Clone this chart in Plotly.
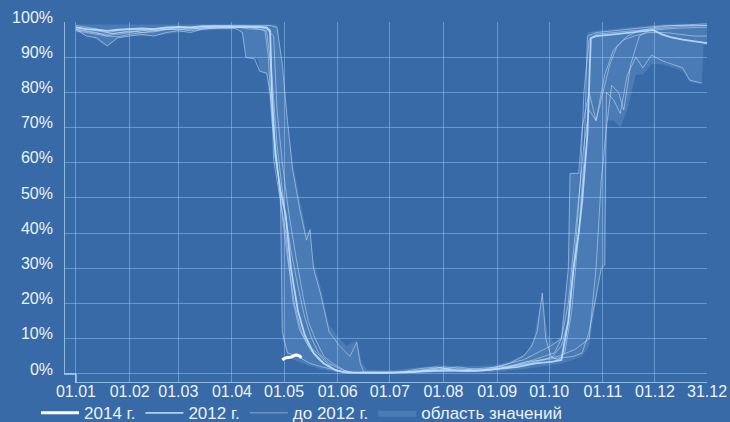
import plotly.graph_objects as go

# ---------------- data (day of year index, 0 = 01.01, 364 = 31.12) ----------------
tick_days = [0, 31, 59, 90, 120, 151, 181, 212, 243, 273, 304, 334, 364]
tick_labels = ["01.01", "01.02", "01.03", "01.04", "01.05", "01.06", "01.07",
               "01.08", "01.09", "01.10", "01.11", "01.12", "31.12"]
y_ticks = [0, 10, 20, 30, 40, 50, 60, 70, 80, 90, 100]
y_labels = ["0%", "10%", "20%", "30%", "40%", "50%", "60%", "70%", "80%", "90%", "100%"]

# range of values (envelope)
env_max_days = [0, 30, 60, 90, 116, 119, 122, 125, 129, 133, 135, 137, 141, 146, 152, 156, 162, 165,
                168, 180, 200, 210, 225, 240, 250, 260, 264, 269, 272, 276, 280, 284, 285, 290, 294,
                295, 300, 310, 320, 330, 345, 364]
env_max_vals = [99.3, 99.2, 99.3, 99.5, 99.3, 88, 72, 60, 50, 40, 41, 32, 25, 14, 10, 8, 9.5, 3,
                1.2, 1, 2, 2.5, 2.2, 2.5, 3.5, 6, 10, 23, 11, 9, 11, 30, 57, 57, 60,
                97, 97.5, 98, 98.5, 99, 99.5, 99.5]
env_min_days = [0, 10, 18, 24, 31, 45, 59, 80, 94, 96, 98, 105, 106, 110, 113, 116, 118, 119, 122,
                128, 140, 150, 160, 200, 240, 260, 280, 287, 292, 296, 300, 303, 305, 306, 310, 314,
                318, 323, 327, 332, 338, 344, 350, 354, 358, 361, 362, 364]
env_min_vals = [97, 95.5, 93, 95.3, 96, 96, 97, 97.8, 97.8, 96.5, 89.8, 89.5, 86, 85, 70, 58, 45, 10, 5,
                3.5, 1.5, 0.5, 0.2, 0.2, 0.4, 1.5, 3, 4, 5, 8, 20, 30, 31, 72, 72, 70,
                75, 85, 85, 88, 88, 87, 86, 83, 82.6, 82.6, 93.5, 93.5]

# years before 2012 (thin lines)
d2007 = [0, 6, 12, 18, 24, 31, 38, 45, 52, 59, 66, 73, 80, 87, 94, 100, 106, 110, 112, 114, 118, 121,
         125, 129, 134, 139, 145, 150, 155, 165, 180, 195, 205, 215, 225, 235, 245, 255, 262, 270,
         275, 280, 284, 288, 291, 293, 296, 300, 310, 320, 330, 340, 350, 364]
v2007 = [98.5, 98, 97.5, 97, 97.5, 98, 97.8, 98, 98.2, 98.5, 98.3, 98.6, 98.7, 98.8, 98.6, 98.5, 98.5,
         98.2, 97, 61, 49, 40, 21, 12.5, 8, 6, 3, 1, 0.5, 0.4, 0.3, 0.5, 1.0, 0.8, 1.2, 1.5, 2, 2.5, 3, 4,
         5, 8, 15, 35, 55, 80, 95, 96.5, 97, 97.5, 98, 98.5, 98.8, 99]

d2008 = [0, 6, 12, 18, 24, 31, 38, 45, 52, 59, 66, 73, 80, 87, 94, 100, 106, 109, 111, 113, 116, 119,
         122, 126, 130, 135, 140, 146, 152, 160, 175, 190, 200, 210, 220, 230, 240, 250, 258, 263,
         266, 269, 271, 274, 278, 282, 286, 290, 293, 295, 300, 310, 320, 330, 340, 364]
v2008 = [98, 96, 95.5, 93.2, 95.5, 96, 96.5, 96, 97, 97.5, 97, 98, 98.2, 98.5, 98.5, 98, 98, 97.5, 90,
         72, 60, 45, 33, 20, 12, 7, 4, 2, 0.8, 0.3, 0.2, 0.4, 0.8, 1.5, 1.0, 0.8, 1.5, 3, 5, 8,
         12, 23, 10, 5, 4, 6, 18, 40, 60, 96, 97, 97.5, 98, 98.5, 99, 99]

d2009 = [0, 6, 12, 18, 24, 31, 38, 45, 52, 59, 66, 73, 80, 87, 94, 100, 106, 112, 116, 119, 122, 125,
         129, 133, 135, 137, 141, 146, 152, 158, 162, 164, 166, 180, 195, 210, 220, 230, 240, 250,
         260, 270, 280, 287, 292, 296, 300, 303, 305, 306, 310, 314, 318, 323, 327, 332, 338, 344,
         350, 354, 358, 361]
v2009 = [99, 98.5, 98, 97, 96.5, 97, 97.5, 98, 98, 98.5, 98.5, 98.8, 99, 99, 99, 99, 99, 99, 98.5, 88,
         72, 58, 47, 38, 41, 30, 23, 12, 8, 5, 9, 3, 0.5, 0.3, 0.6, 1.8, 1.2, 0.9, 1.2, 2,
         3.5, 4, 4.5, 5, 6, 12, 22, 30, 31, 80, 78, 74, 85, 90, 87, 90.6, 89, 88,
         87, 83.5, 83, 82.6]

d2010 = [0, 6, 12, 18, 24, 31, 38, 45, 52, 59, 66, 73, 80, 87, 94, 100, 106, 110, 114, 116, 119, 123,
         127, 131, 134, 138, 143, 148, 155, 160, 175, 190, 200, 212, 222, 232, 242, 250, 258, 266,
         274, 280, 284, 285, 290, 292, 296, 300, 305, 310, 316, 322, 330, 340, 350, 357, 364]
v2010 = [97.5, 97, 96.5, 96, 96.8, 97.5, 97, 97.5, 98, 97.8, 98, 98.2, 98.5, 98.2, 98.5, 98.6, 98.4, 98,
         96, 75, 60, 45, 33, 22, 15, 10, 5, 3, 1, 0.4, 0.3, 0.5, 1.2, 2, 1.5, 1, 2, 3, 4, 6,
         8, 10, 30, 57, 57, 70, 80, 72, 85, 92, 95, 96, 97, 97, 96.5, 96, 96]

d2011 = [0, 6, 12, 18, 24, 31, 38, 45, 52, 59, 66, 73, 80, 87, 92, 96, 98, 103, 106, 110, 112, 115, 118,
         119, 122, 128, 135, 142, 150, 157, 170, 185, 200, 210, 220, 228, 238, 248, 256, 264, 270,
         276, 280, 284, 287, 290, 293, 296, 300, 304, 308, 312, 318, 325, 335, 345, 355, 364]
v2011 = [98, 97.5, 97, 96, 95.8, 96.5, 97, 97.2, 97.8, 98, 97.5, 98, 98.3, 98.5, 98.2, 97, 90, 89.5, 86,
         85.5, 80, 65, 50, 12, 6, 5, 3, 2, 1, 0.3, 0.3, 0.5, 1, 1.2, 2, 1.5, 1.2, 2, 3, 4, 5,
         6, 10, 20, 35, 50, 65, 75, 72, 80, 88, 93, 96, 97.5, 98.5, 99, 99.3, 99.5]

d2006 = [0, 6, 12, 18, 24, 31, 38, 45, 52, 59, 66, 73, 80, 87, 94, 100, 106, 110, 113, 116, 120, 124,
         128, 132, 136, 140, 146, 152, 158, 170, 185, 198, 208, 218, 228, 238, 248, 258, 268, 278,
         288, 296, 300, 303, 306, 309, 313, 316, 320, 325, 330, 340, 350, 364]
v2006 = [97.8, 97.2, 96.8, 96.5, 97, 97.2, 97.8, 97.5, 98, 98.3, 98, 98.4, 98.6, 98.5, 98.7, 98.5, 98, 97.5,
         85, 65, 48, 35, 25, 16, 10, 6, 3, 1.5, 0.5, 0.3, 0.4, 1.5, 2, 1, 0.8, 1, 1.8, 3, 4, 5,
         7, 10, 30, 55, 70, 82, 80, 75, 88, 96, 97.5, 98, 98.3, 98.5]

# 2012 (medium line)
d2012 = [0, 6, 12, 18, 24, 31, 38, 45, 52, 59, 66, 73, 80, 87, 94, 100, 106, 110, 112, 113, 115, 118,
         121, 124, 128, 132, 137, 143, 150, 156, 170, 190, 205, 215, 225, 235, 245, 255, 265, 275,
         280, 284, 287, 290, 292, 295, 297, 300, 310, 320, 330, 333, 338, 343, 350, 357, 364]
v2012 = [98.5, 98, 97.8, 97.5, 97.8, 98, 98.2, 98, 98.5, 98.6, 98.5, 98.8, 98.8, 98.7, 98.8, 98.7, 98.6,
         98.5, 97.5, 80, 62, 52, 45, 30, 18, 11, 6, 3, 1, 0.4, 0.4, 0.5, 0.8, 1, 0.8, 1, 1.5, 2, 3,
         3.5, 4, 15, 30, 40, 49, 68, 95.4, 96, 96.5, 97, 97.5, 97.7, 96.5, 95.7, 95, 94.5, 94]

# 2014 (thick white line)
d2014 = [119, 121, 124, 127, 129, 130]
v2014 = [4, 4.6, 4.8, 5.4, 5.1, 4.6]

thin_years = [(d2006, v2006), (d2007, v2007), (d2008, v2008), (d2009, v2009),
              (d2010, v2010), (d2011, v2011)]

# ---------------- styling ----------------
BG = "rgb(55,106,166)"
GRID = "rgba(140,190,240,0.55)"
AXIS = "rgba(175,215,250,0.95)"
TEXT = "rgb(236,243,251)"
FONT = "Liberation Sans, Arial, sans-serif"
X0 = -6.9
YB = -2.56

fig = go.Figure()

# envelope
fig.add_trace(go.Scatter(x=env_min_days, y=env_min_vals, mode="lines",
                         line=dict(width=0, color="rgba(0,0,0,0)"),
                         showlegend=False, hoverinfo="skip"))
fig.add_trace(go.Scatter(x=env_max_days, y=env_max_vals, mode="lines",
                         line=dict(width=0, color="rgba(0,0,0,0)"),
                         fill="tonexty", fillcolor="rgba(170,210,250,0.17)",
                         name="область значений", legendrank=4))

for i, (d, v) in enumerate(thin_years):
    fig.add_trace(go.Scatter(x=d, y=v, mode="lines",
                             line=dict(width=1, color="rgba(210,232,255,0.5)"),
                             name="до 2012 г.", legendgroup="old",
                             showlegend=(i == 0), legendrank=3))

fig.add_trace(go.Scatter(x=d2012, y=v2012, mode="lines",
                         line=dict(width=1.8, color="rgba(185,222,255,0.9)"),
                         name="2012 г.", legendrank=2))
fig.add_trace(go.Scatter(x=d2014, y=v2014, mode="lines",
                         line=dict(width=3, color="white", shape="spline"),
                         name="2014 г.", legendrank=1))

shapes = [
    dict(type="line", xref="x", yref="y", x0=X0, x1=X0, y0=0, y1=100, line=dict(color=AXIS, width=1.5)),
    dict(type="line", xref="x", yref="y", x0=X0, x1=0, y0=0, y1=0, line=dict(color=AXIS, width=1.5)),
    dict(type="line", xref="x", yref="y", x0=0, x1=0, y0=0, y1=YB, line=dict(color=AXIS, width=1.5)),
    dict(type="line", xref="x", yref="y", x0=0, x1=364, y0=YB, y1=YB, line=dict(color=AXIS, width=1.5)),
]

fig.update_layout(
    width=730, height=422,
    margin=dict(l=64, r=23, t=22, b=39, pad=0, autoexpand=False),
    paper_bgcolor=BG, plot_bgcolor=BG,
    font=dict(family=FONT, size=16, color=TEXT),
    shapes=shapes,
    showlegend=True,
    legend=dict(orientation="h", x=-0.0435, y=-0.034, xanchor="left", yanchor="top",
                bgcolor="rgba(0,0,0,0)", font=dict(size=17, color=TEXT),
                itemwidth=38, traceorder="normal", tracegroupgap=0),
    xaxis=dict(range=[X0, 364], tickmode="array", tickvals=tick_days, ticktext=tick_labels,
               showgrid=True, gridcolor=GRID, gridwidth=1, zeroline=False, showline=False,
               ticks="", ticklabelstandoff=-3,
               tickfont=dict(size=16, color=TEXT)),
    yaxis=dict(range=[YB, 100], tickmode="array", tickvals=y_ticks, ticktext=y_labels,
               showgrid=True, gridcolor=GRID, gridwidth=1, zeroline=False, showline=False,
               ticks="", ticklabelstandoff=10, ticklabelshift=-5,
               tickfont=dict(size=16, color=TEXT)),
)

fig.write_html("out.html", config={"displayModeBar": False},
               post_script="document.body.style.margin='0';document.body.style.background='" + BG + "';")
